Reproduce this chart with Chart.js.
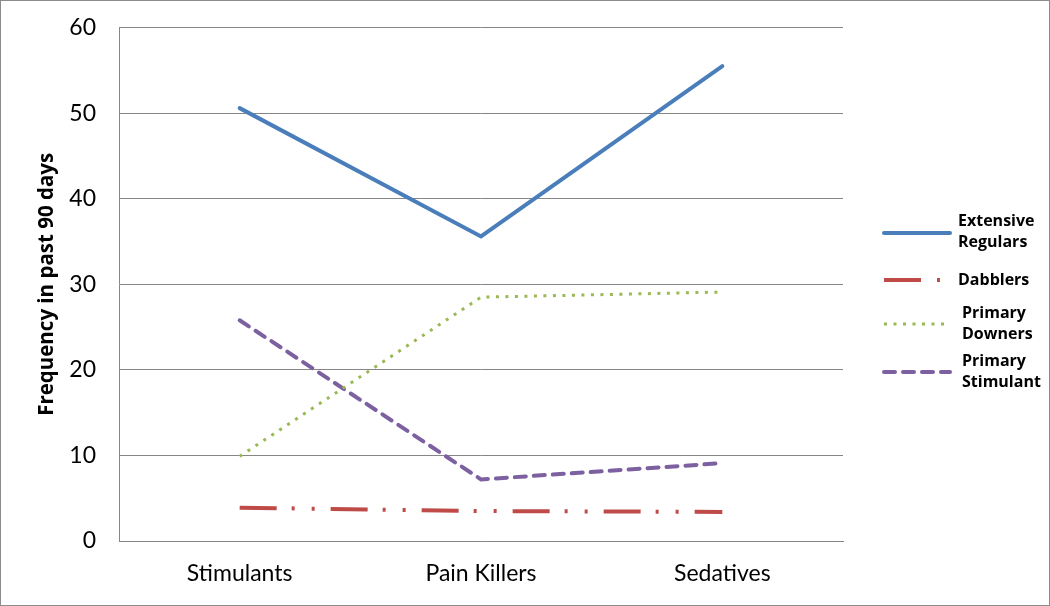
<!DOCTYPE html>
<html>
<head>
<meta charset="utf-8">
<script src="https://cdn.jsdelivr.net/npm/chart.js@4.4.1/dist/chart.umd.min.js"></script>
<style>
  html, body { margin: 0; padding: 0; background: #fff; }
  #wrap { position: relative; width: 1050px; height: 606px; box-sizing: border-box; border: 1px solid #8c8c8c; }
  canvas { display: block; }
</style>
</head>
<body>
<div id="wrap"><canvas id="c" width="1048" height="604"></canvas></div>
<script>
const categories = ["Stimulants", "Pain Killers", "Sedatives"];
const extensiveRegulars = [50.6, 35.6, 55.5];
const dabblers = [3.9, 3.5, 3.4];
const primaryDowners = [9.9, 28.5, 29.1];
const primaryStimulant = [25.8, 7.2, 9.1];
const seriesLabels = [["Extensive", "Regulars"], ["Dabblers"], ["Primary", "Downers"], ["Primary", "Stimulant"]];
const yTicks = [0, 10, 20, 30, 40, 50, 60];
const yTitle = "Frequency in past 90 days";

const FONT = "Lato, 'Open Sans', sans-serif";
const BOLDFONT = "'Open Sans', Lato, sans-serif";

const customDecor = {
  id: 'customDecor',
  afterDraw(chart) {
    const ctx = chart.ctx;
    const area = chart.chartArea;
    // y axis title
    ctx.save();
    ctx.translate(46, (area.top + area.bottom) / 2);
    ctx.rotate(-Math.PI / 2);
    ctx.font = "bold 20.5px " + BOLDFONT;
    ctx.fillStyle = "#000";
    ctx.textAlign = "center";
    ctx.textBaseline = "middle";
    ctx.fillText(yTitle, 0, 0);
    ctx.restore();
    // legend
    const ys = [232, 279, 323, 371];
    chart.data.datasets.forEach((ds, i) => {
      const y = ys[i];
      ctx.save();
      ctx.strokeStyle = ds.borderColor;
      ctx.lineWidth = ds.borderWidth;
      ctx.lineCap = ds.borderCapStyle || 'butt';
      ctx.setLineDash(ds.legendDash || ds.borderDash || []);
      ctx.beginPath();
      ctx.moveTo(883, y);
      ctx.lineTo(949, y);
      ctx.stroke();
      ctx.restore();
      ctx.save();
      ctx.font = "bold 16px " + BOLDFONT;
      ctx.fillStyle = "#000";
      ctx.textBaseline = "middle";
      const lines = ds.label;
      const lh = 21;
      const startY = y - (lines.length - 1) * lh / 2 + (i === 0 ? -1 : 0);
      lines.forEach((t, k) => ctx.fillText(t, i >= 2 ? 961 : 957, startY + k * lh));
      ctx.restore();
    });
  }
};

new Chart(document.getElementById('c'), {
  type: 'line',
  data: {
    labels: categories,
    datasets: [
      { label: seriesLabels[0], data: extensiveRegulars, borderColor: '#4A7EBB', borderWidth: 4, borderCapStyle: 'round', pointRadius: 0, tension: 0 },
      { label: seriesLabels[1], data: dabblers, borderColor: '#BE4B48', borderWidth: 4, borderDash: [37, 15, 3, 17, 3, 16], legendDash: [37, 16, 3, 50], pointRadius: 0, tension: 0 },
      { label: seriesLabels[2], data: primaryDowners, borderColor: '#98B954', borderWidth: 3, borderDash: [3, 6.5], pointRadius: 0, tension: 0 },
      { label: seriesLabels[3], data: primaryStimulant, borderColor: '#7D60A0', borderWidth: 4, borderCapStyle: 'round', borderDash: [11, 8], pointRadius: 0, tension: 0 }
    ]
  },
  options: {
    responsive: false,
    animation: false,
    events: [],
    layout: { padding: { top: 26.7, right: 206, bottom: 0, left: 0 } },
    plugins: { legend: { display: false }, tooltip: { enabled: false } },
    scales: {
      x: {
        offset: true,
        grid: { display: false, drawTicks: false },
        border: { display: true, color: '#868686', width: 1 },
        ticks: { font: { family: FONT, size: 23 }, color: '#000', padding: 19 },
        afterFit(s) { s.height = 64; s.paddingLeft = 0; s.paddingRight = 0; }
      },
      y: {
        min: 0, max: 60,
        afterBuildTicks(s) { s.ticks = yTicks.map(v => ({ value: v })); },
        grid: { color: '#868686', drawTicks: false, lineWidth: 1 },
        border: { display: true, color: '#868686', width: 1 },
        ticks: { font: { family: FONT, size: 23 }, color: '#000', padding: 23 },
        afterFit(s) { s.width = 118; s.paddingTop = 0; s.paddingBottom = 0; }
      }
    }
  },
  plugins: [customDecor]
});
</script>
</body>
</html>
